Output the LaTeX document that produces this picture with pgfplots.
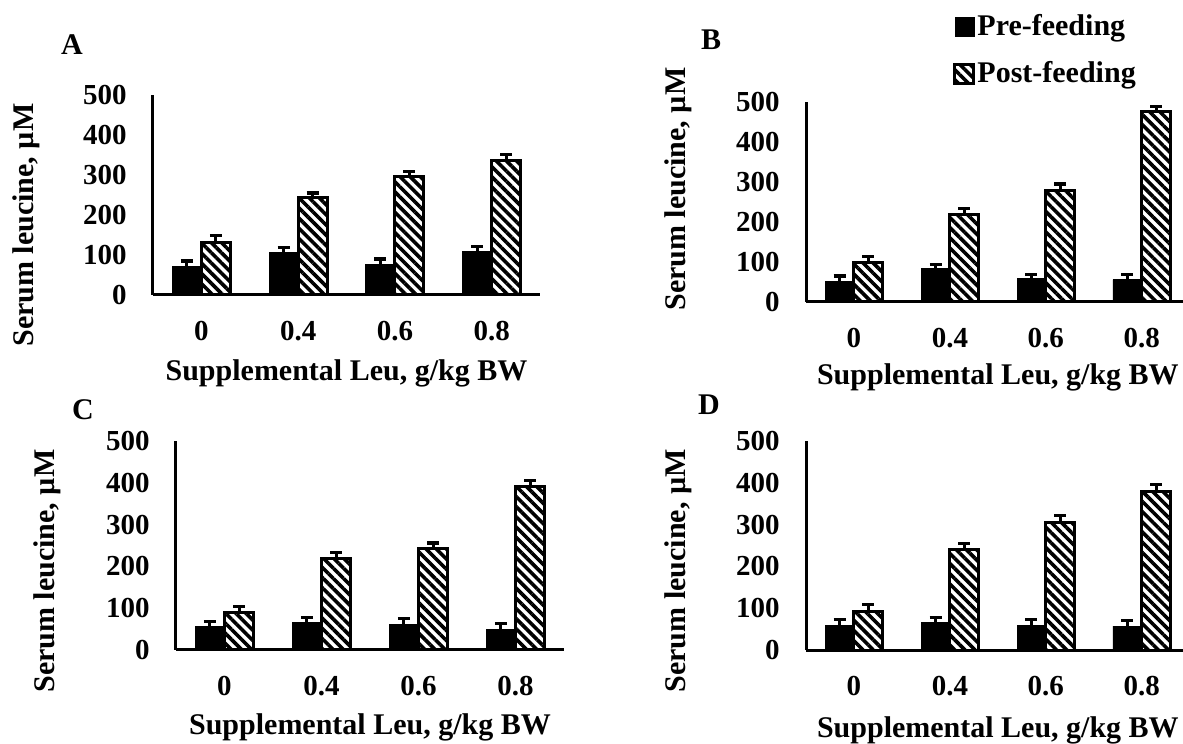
\documentclass[border=0pt]{standalone}
\usepackage{fontspec}
\setmainfont{Liberation Serif}
\usepackage{pgfplots}
\pgfplotsset{compat=1.18}
\usetikzlibrary{patterns.meta}

\newcommand{\tickfont}{\fontsize{14.5}{17}\selectfont\bfseries}
\newcommand{\labfont}{\fontsize{15}{18}\selectfont\bfseries}

\pgfplotsset{
  leu/.style={
    scale only axis, anchor=south west,
    ybar=0pt, bar width=0.3,
    ymin=0, ymax=500, ytick={0,100,...,500},
    xmin=-0.5, xtick={0,1,2,3}, xticklabels={0,0.4,0.6,0.8},
    axis x line*=bottom, axis y line*=left,
    axis line style={line width=1.5pt},
    major tick length=0pt,
    /pgf/number format/assume math mode=true,
    yticklabel style={font=\tickfont, inner sep=0pt, anchor=east, xshift=-13pt},
    xticklabel style={font=\tickfont, inner sep=0pt, anchor=center, yshift=-18pt},
    xlabel={Supplemental Leu, g/kg BW},
    ylabel={Serum leucine, µM},
    xlabel style={font=\labfont, anchor=center},
    ylabel style={font=\labfont, anchor=center},
    clip=false,
  },
  ebar/.style={
    error bars/y dir=plus, error bars/y explicit,
    error bars/error bar style={line width=1.5pt, black, solid},
    error bars/error mark options={black, line width=1.6pt, mark size=3pt, rotate=90}},
  pre/.style={fill=black, draw=black, line width=0.4pt, ebar},
  post/.style={draw=black, line width=1.5pt,
    pattern={Lines[angle=-45, distance=3.6pt, line width=1.8pt]}, pattern color=black, ebar},
}

\begin{document}
\begin{tikzpicture}
\useasboundingbox (0,0) rectangle (591.5pt,372pt);

% A
\begin{axis}[leu, at={(76.5pt,224.5pt)}, width=193.5pt, height=100pt, xmax=3.5,
  ylabel style={at={(axis description cs:-0.328,0.35)}},
  xlabel style={at={(axis description cs:0.5,-0.39)}}]
\addplot[pre] coordinates {(0,71) +- (0,14) (1,106) +- (0,13) (2,77) +- (0,13) (3,109) +- (0,12)};
\addplot[post] coordinates {(0,131) +- (0,17) (1,243) +- (0,12) (2,295) +- (0,13) (3,336) +- (0,15)};
\end{axis}

% B
\begin{axis}[leu, at={(403pt,221pt)}, width=188.5pt, height=100pt, xmax=3.43,
  ylabel style={at={(axis description cs:-0.34,0.565)}},
  xlabel style={at={(axis description cs:0.509,-0.375)}},
  legend cell align=left,
  legend image code/.code={\draw[#1] (0pt,-4.75pt) rectangle (9.5pt,4.75pt);},
  legend style={draw=none, fill=none, at={(0.39,1.45)}, anchor=north west,
    font=\labfont, inner sep=0pt, row sep=9.5pt,
    nodes={inner sep=1pt}}]
\addplot[pre] coordinates {(0,52) +- (0,13) (1,83) +- (0,10) (2,58) +- (0,11) (3,56) +- (0,13)};
\addplot[post] coordinates {(0,98) +- (0,16) (1,218) +- (0,15) (2,279) +- (0,16) (3,475) +- (0,13)};
\legend{Pre-feeding,Post-feeding}
\end{axis}

% C
\begin{axis}[leu, at={(88pt,47pt)}, width=194pt, height=104.5pt, xmax=3.5,
  ylabel style={at={(axis description cs:-0.332,0.378)}},
  xlabel style={at={(axis description cs:0.5,-0.368)}}]
\addplot[pre] coordinates {(0,56) +- (0,13) (1,65) +- (0,13) (2,62) +- (0,14) (3,50) +- (0,14)};
\addplot[post] coordinates {(0,90) +- (0,15) (1,219) +- (0,14) (2,243) +- (0,13) (3,392) +- (0,14)};
\end{axis}

% D
\begin{axis}[leu, at={(403pt,47pt)}, width=188.5pt, height=104.5pt, xmax=3.43,
  ylabel style={at={(axis description cs:-0.34,0.379)}},
  xlabel style={at={(axis description cs:0.509,-0.383)}}]
\addplot[pre] coordinates {(0,59) +- (0,14) (1,65) +- (0,13) (2,59) +- (0,14) (3,57) +- (0,14)};
\addplot[post] coordinates {(0,93) +- (0,15) (1,241) +- (0,14) (2,306) +- (0,15) (3,379) +- (0,16)};
\end{axis}

\node[font=\labfont] at (36pt,349.5pt) {A};
\node[font=\labfont] at (355.5pt,352pt) {B};
\node[font=\labfont] at (41.5pt,167pt) {C};
\node[font=\labfont] at (354.5pt,169.5pt) {D};
\end{tikzpicture}
\end{document}
